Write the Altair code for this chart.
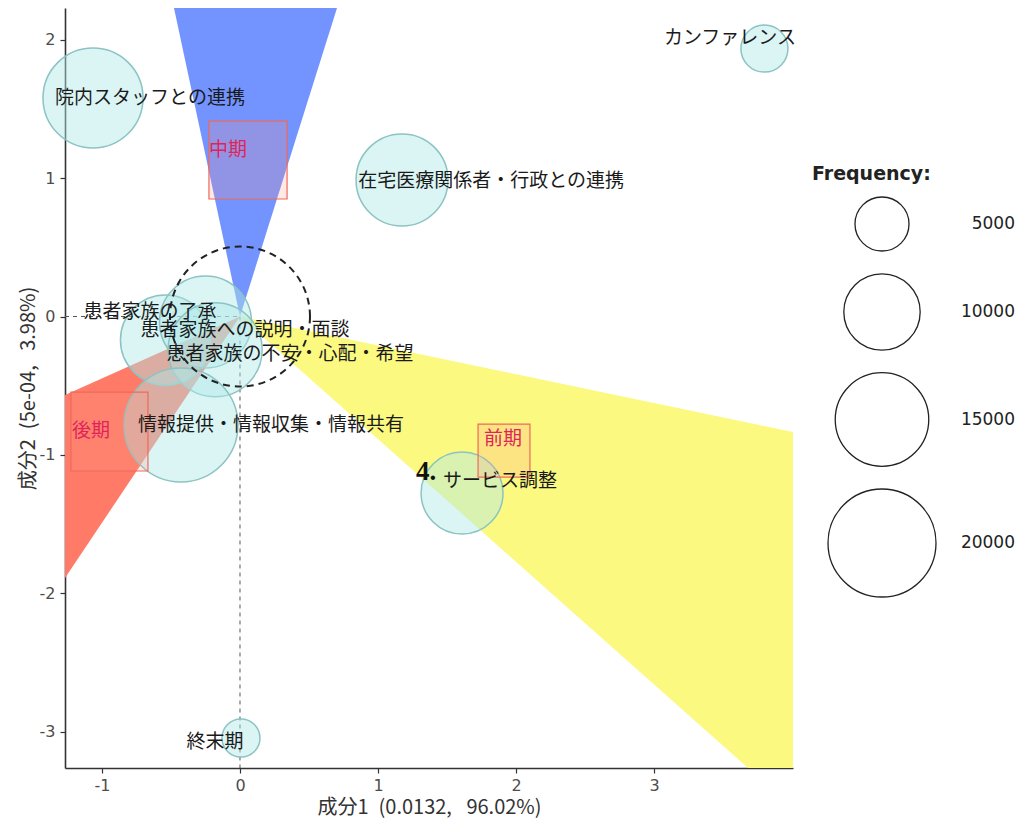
import altair as alt
import pandas as pd

# ---------------- data ----------------
terms = ["カンファレンス", "院内スタッフとの連携", "在宅医療関係者・行政との連携",
         "患者家族の了承", "患者家族への説明・面談", "患者家族の不安・心配・希望",
         "情報提供・情報収集・情報共有", "サービス調整", "終末期"]
dim1 = [3.80, -1.065, 1.174, -0.54, -0.25, -0.18, -0.428, 1.609, 0.007]
dim2 = [1.936, 1.579, 0.987, -0.17, -0.04, -0.24, -0.784, -1.275, -3.045]
freq = [3800, 17150, 14500, 13900, 14500, 15150, 22300, 11500, 2480]
label_x = [3.55, -0.652, 1.82, -0.652, 0.036, 0.362, 0.225, 1.884, -0.181]
label_y = [2.012, 1.579, 0.979, 0.033, -0.098, -0.271, -0.784, -1.188, -3.071]

periods = ["前期", "中期", "後期"]
period_tx = [1.768, -0.225, -1.217]
period_ty = [-0.885, 1.203, -0.827]
box_x1 = [1.725, -0.225, -1.225]
box_x2 = [2.101, 0.341, -0.667]
box_y1 = [-0.777, 1.412, -0.546]
box_y2 = [-1.160, 0.849, -1.116]

# wedges: apex at origin, two rays given by far end points
blue_y = [0.0, 2.4]
blue_xl = [0.0, -0.515]
blue_xr = [0.0, 0.757]
red_x = [0.0, -1.4]
red_yt = [0.0, -0.626]
red_yb = [0.0, -2.086]
yel_x = [0.0, 4.3]
yel_yt = [0.0, -0.896]
yel_yb = [0.0, -3.81]

legend_values = [5000, 10000, 15000, 20000]
x_ticks = [-1, 0, 1, 2, 3]
y_ticks = [-3, -2, -1, 0, 1, 2]
x_domain = [-1.268, 4.007]
y_domain = [-3.262, 2.229]

# ---------------- scales / encodings ----------------
JP = "Noto Sans CJK JP"
xs = alt.Scale(domain=x_domain, nice=False, zero=False)
ys = alt.Scale(domain=y_domain, nice=False, zero=False)
xaxis = alt.Axis(values=x_ticks, title="成分1\u2002(0.0132,\u2002 96.02%)",
                 labelExpr="'' + datum.value")
yaxis = alt.Axis(values=y_ticks, title="成分2\u2002(5e-04,\u2002 3.98%)",
                 labelExpr="'' + datum.value", titleX=-27, titleY=380)

size_scale = alt.Scale(type="linear", domain=[0, 20000], range=[0, 11664], zero=True)


def X(f):
    return alt.X(f"{f}:Q", scale=xs, axis=xaxis)


def Y(f):
    return alt.Y(f"{f}:Q", scale=ys, axis=yaxis)


blue = alt.Chart(pd.DataFrame({"y": blue_y, "x": blue_xl, "x2": blue_xr})).mark_area(
    orient="horizontal", color="#7393ff", opacity=1, clip=True
).encode(y=Y("y"), x=X("x"), x2="x2:Q")

red = alt.Chart(pd.DataFrame({"x": red_x, "y": red_yt, "y2": red_yb})).mark_area(
    orient="vertical", color="#ff7b68", opacity=1, clip=True
).encode(x=X("x"), y=Y("y"), y2="y2:Q")

yellow = alt.Chart(pd.DataFrame({"x": yel_x, "y": yel_yt, "y2": yel_yb})).mark_area(
    orient="vertical", color="#fbf980", opacity=1, clip=True
).encode(x=X("x"), y=Y("y"), y2="y2:Q")

hline = alt.Chart(pd.DataFrame({"x": [x_domain[0]], "x2": [0.0], "y": [0.0]})).mark_rule(
    color="#555", strokeDash=[4, 4], strokeWidth=1
).encode(x=X("x"), x2="x2:Q", y=Y("y"))

vline = alt.Chart(pd.DataFrame({"x": [0.0], "y": [0.0], "y2": [y_domain[0]]})).mark_rule(
    color="#555", strokeDash=[4, 4], strokeWidth=1
).encode(x=X("x"), y=Y("y"), y2="y2:Q")

df = pd.DataFrame({"term": terms, "x": dim1, "y": dim2, "freq": freq,
                   "lx": label_x, "ly": label_y})

bubbles = alt.Chart(df).mark_circle(
    fill="#b0e8e8", fillOpacity=0.45, stroke="#8cc3c3", strokeWidth=1.5, opacity=1
).encode(
    x=X("x"), y=Y("y"),
    size=alt.Size("freq:Q", scale=size_scale, legend=None)
)

# legend-only layer (no visible marks; the size legend is drawn from its scale)
legend_layer = alt.Chart(pd.DataFrame({"lf": legend_values})).transform_filter(
    "datum.lf < 0"
).mark_point(
    shape="circle", filled=False, stroke="#222", strokeWidth=1.3, opacity=1
).encode(
    size=alt.Size("lf:Q", scale=size_scale,
                  legend=alt.Legend(
                      title="Frequency:", values=legend_values, orient="none",
                      legendX=747, legendY=157, direction="vertical", format="d",
                      symbolType="circle", symbolFillColor="transparent",
                      symbolStrokeColor="#222", symbolStrokeWidth=1.3, symbolOpacity=1,
                      symbolOffset=15,
                      titleFont="DejaVu Sans", titleFontSize=19, titleFontWeight="bold",
                      titleColor="#222", titlePadding=12,
                      labelFont="DejaVu Sans", labelFontSize=17, labelColor="#222",
                      labelAlign="right", labelOffset=78, rowPadding=17))
)

dcircle = alt.Chart(pd.DataFrame({"x": [0.0], "y": [0.0]})).mark_point(
    shape="circle", size=19600, filled=False, stroke="#222", strokeWidth=2,
    strokeDash=[7, 5], opacity=1
).encode(x=X("x"), y=Y("y"))

pdf = pd.DataFrame({"p": periods, "tx": period_tx, "ty": period_ty,
                    "x1": box_x1, "x2": box_x2, "y1": box_y1, "y2": box_y2})

boxes = alt.Chart(pdf).mark_rect(
    fill="#ff9a8a", fillOpacity=0.22, stroke="#ee6a5a", strokeWidth=1.2
).encode(x=X("x1"), x2="x2:Q", y=Y("y1"), y2="y2:Q")

ptext = alt.Chart(pdf).mark_text(
    font=JP, fontSize=19, color="#e0245a", align="left", baseline="middle"
).encode(x=X("tx"), y=Y("ty"), text="p:N")

labels = alt.Chart(df).mark_text(
    font=JP, fontSize=19, color="#1a1a1a", align="center", baseline="middle"
).encode(x=X("lx"), y=Y("ly"), text="term:N")

note = alt.Chart(pd.DataFrame({"x": [1.275], "y": [-1.124], "t": ["4."]})).mark_text(
    font="Liberation Serif", fontSize=27, fontWeight="bold", color="#111",
    align="left", baseline="middle"
).encode(x=X("x"), y=Y("y"), text="t:N")

chart = alt.layer(
    blue, red, yellow, hline, vline, bubbles, dcircle, boxes, labels, ptext, note,
    legend_layer
).resolve_scale(size="independent").properties(
    width=728, height=760,
    padding={"left": 65, "top": 8, "right": 227, "bottom": 58},
    autosize=alt.AutoSizeParams(type="none"),
    background="white",
).configure_view(stroke=None).configure_axis(
    grid=False, domainColor="#333", domainWidth=1.6, tickColor="#333", tickSize=5,
    tickWidth=1.2, labelColor="#4d4d4d", labelFontSize=16, labelFont="DejaVu Sans",
    titleFont=JP, titleFontSize=20, titleColor="#333", titleFontWeight="normal",
).configure_axisX(labelPadding=4, titlePadding=4).configure_axisY(labelPadding=5)

chart.save("out.html", embed_options={"renderer": "svg", "actions": False})
